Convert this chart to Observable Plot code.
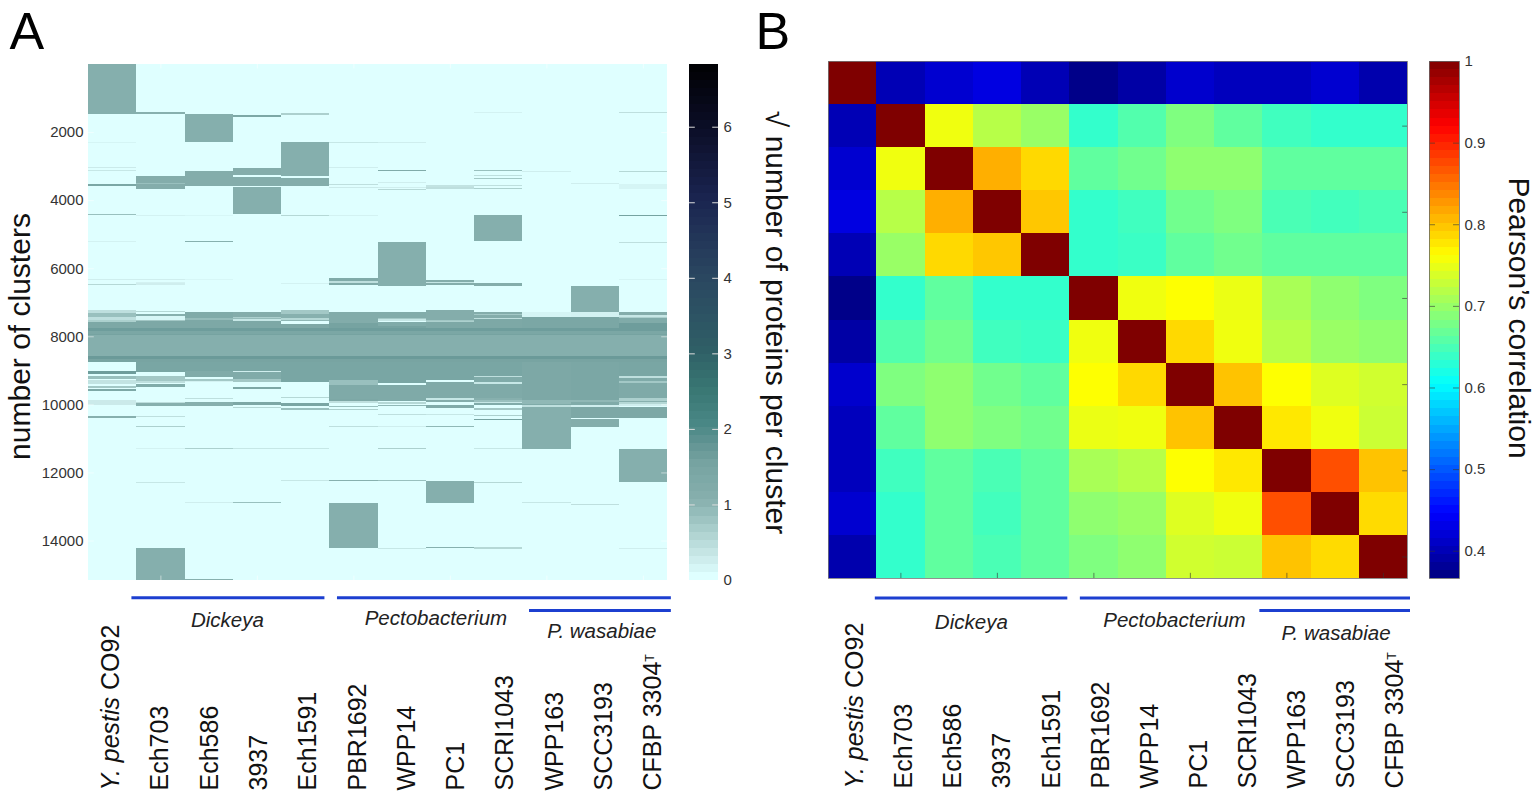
<!DOCTYPE html>
<html>
<head>
<meta charset="utf-8">
<script src="https://cdn.jsdelivr.net/npm/d3@7"></script>
<script src="https://cdn.jsdelivr.net/npm/@observablehq/plot@0.6"></script>
<style>
html,body{margin:0;padding:0;background:#fff}
#wrap{position:relative;width:1537px;height:800px;overflow:hidden}
</style>
</head>
<body>
<div id="wrap"></div>
<script>
// ---------- shared categories ----------
const genomes = ["Y. pestis CO92","Ech703","Ech586","3937","Ech1591","PBR1692","WPP14","PC1","SCRI1043","WPP163","SCC3193","CFBP 3304T"];
const clusterCount = 15160;
const clusterTicks = [2000,4000,6000,8000,10000,12000,14000];
const sizeTicks = [0,1,2,3,4,5,6];
const sizeMax = 6.83;
const corrTicks = [0.4,0.5,0.6,0.7,0.8,0.9,1];
const corrMin = 0.3666;

// ---------- panel A: [first cluster, last cluster, sqrt(proteins per cluster)] ----------
const coreBands = [[7765,7830,1.6],[7830,7940,1.35],[7940,7965,1.5],[7965,8590,1.05],[8590,8680,1.65],[8680,8760,1.45]];
const yPestisBands = [[0,1478,1.05],[2290,2310,.12],[3035,3055,.25],[3123,3145,.3],[3525,3580,1.35],[4415,4440,.8],[5199,5215,.15],[6324,6345,.2],[6450,6480,.5],[7227,7325,.4],[7325,7423,.8],[7423,7520,.4],[7520,7570,.6],[7570,7765,1.3],[9018,9107,1.6],[9165,9244,.8],[9283,9400,.35],[9459,9508,.7],[9537,9616,1.3],[9870,10017,.25],[10340,10400,1],[10630,10650,.1],[12220,12235,.2],[12886,12910,.4]];
const ech703Bands = [[1410,1470,1],[3290,3510,1.1],[3510,3540,.8],[3540,3660,1.1],[4430,4460,.15],[6330,6350,.2],[6395,6420,.15],[6440,6480,.2],[7256,7295,.5],[7344,7403,1],[7403,7511,.1],[7511,7550,.7],[7550,7765,1.3],[8760,9038,1.4],[9175,9312,.7],[9312,9380,.4],[9410,9488,1.2],[9919,9968,.4],[9968,10047,1],[10330,10360,.4],[10630,10660,.6],[11290,11310,.15],[12270,12300,.3],[14228,15160,1.05]];
const ech586Bands = [[1478,2290,1.05],[3135,3580,1.1],[4440,4460,.1],[5210,5240,1],[6320,6340,.1],[6420,6440,.15],[7276,7472,1.2],[7472,7520,.85],[7520,7765,1.3],[8760,9009,1.4],[9009,9204,1.2],[9263,9312,.7],[9312,9350,.15],[9821,9850,.4],[9919,10037,1],[11280,11300,.6],[12880,12900,.2],[15138,15160,1]];
const b3937Bands = [[1510,1550,1.3],[3045,3260,1.1],[3310,3570,1.1],[3613,4415,1.05],[5215,5225,.15],[6420,6440,.1],[7276,7423,1.1],[7423,7470,.6],[7470,7500,.85],[7500,7550,.3],[7550,7765,1.3],[8760,9009,1.4],[9009,9048,.2],[9048,9253,1.2],[9253,9351,.7],[9479,9537,1.3],[9939,10027,1.3],[10090,10120,.5],[11290,11310,.3],[12880,12905,.8]];
const ech1591Bands = [[1430,1490,.6],[2290,3280,1.05],[3340,3590,1.1],[4445,4475,.5],[5200,5210,.12],[6440,6460,.15],[7227,7344,.7],[7344,7472,1],[7472,7520,.5],[7520,7560,.9],[7628,7765,1.3],[8760,9351,1.4],[9792,9821,.5],[9958,10037,1.4],[10115,10174,.8],[11290,11310,.3],[12220,12240,.3]];
const pbr1692Bands = [[2285,2315,.3],[3035,3055,.2],[3340,3360,.12],[3530,3560,.4],[3620,3640,.25],[4440,4460,.15],[6295,6380,1.2],[6380,6420,.4],[6420,6480,1.2],[7276,7618,1.15],[7618,7765,1.5],[8760,9283,1.4],[9283,9430,.8],[9430,9831,1.25],[9831,9910,1.3],[9910,9968,.4],[10037,10066,.8],[10145,10180,.6],[10360,10380,.2],[10630,10660,.4],[12220,12250,1],[12886,14228,1.05]];
const wpp14Bands = [[2290,2310,.2],[3120,3150,1.2],[3480,3500,.2],[3620,3640,.2],[3680,3700,.5],[4440,4450,.08],[5216,6510,1.05],[7276,7472,1.15],[7472,7500,.7],[7500,7540,.3],[7590,7700,1.2],[7700,7765,1.5],[8760,9380,1.4],[9440,9900,1.25],[9945,9975,.5],[10010,10040,.9],[10290,10320,.4],[10640,10660,.2],[11280,11300,.6],[12220,12250,.8],[14220,14240,.3]];
const pc1Bands = [[2280,2300,.25],[3550,3600,.35],[3620,3670,.4],[6340,6400,1.1],[6400,6440,.3],[6440,6490,1.1],[7227,7520,1.1],[7520,7550,.7],[7550,7590,.6],[7590,7765,1.3],[8760,9283,1.4],[9340,9821,1.25],[9821,9880,.3],[9880,9919,1.1],[10017,10115,1.2],[10290,10310,.3],[10640,10670,.9],[12240,12886,1.05],[14179,14228,1]];
const scri1043Bands = [[1410,1430,.15],[3120,3150,.8],[3270,3300,.4],[3335,3375,.7],[3550,3590,.4],[3630,3660,.6],[4435,5199,1.05],[6420,6510,1.1],[7276,7354,1.1],[7354,7374,.7],[7374,7472,1.1],[7472,7500,.4],[7500,7765,1.3],[8760,9155,1.4],[9155,9195,.4],[9195,9332,1.2],[9332,9410,.3],[9410,9821,1.25],[9821,9870,1],[9870,9919,.8],[9919,9968,.3],[9968,10017,1.2],[10115,10170,.7],[10310,10340,.6],[10440,10470,1.5],[11290,11310,.3],[12280,12300,.5],[14179,14250,.5]];
const wpp163Bands = [[3150,3170,.2],[7295,7443,.12],[7443,7765,1.35],[8760,9870,1.3],[9870,9987,.9],[9987,10017,1.2],[10017,10066,.4],[10066,11300,1.05],[12880,12900,.3]];
const scc3193Bands = [[3130,3150,.2],[3500,3520,.2],[5190,5210,.25],[6510,7276,1.05],[7276,7443,.15],[7443,7765,1.35],[8760,9870,1.35],[9870,9940,.9],[9940,10017,1.2],[10017,10066,.2],[10066,10390,1.3],[10420,10674,1.1],[11330,11350,.6],[12920,12945,.4]];
const cfbpBands = [[1400,1425,.4],[3150,3175,.5],[3530,3660,.12],[4435,4470,1.5],[5220,5250,.4],[6320,6340,.12],[7276,7374,1.1],[7374,7423,.3],[7423,7470,.6],[7470,7620,1.2],[7620,7765,1.6],[8760,9165,1.4],[9165,9224,.4],[9224,9312,1.2],[9312,9360,.7],[9360,9821,1.25],[9821,9900,.6],[9900,9940,1],[9940,9998,.5],[9998,10047,.2],[10067,10410,1.3],[11310,12270,1.05],[14220,14240,.2]];
const bandsByGenome = [yPestisBands,ech703Bands,ech586Bands,b3937Bands,ech1591Bands,pbr1692Bands,wpp14Bands,pc1Bands,scri1043Bands,wpp163Bands,scc3193Bands,cfbpBands];

// ---------- panel B: upper triangle of Pearson correlation ----------
const corrUpper = [
 [1,.40,.417,.427,.40,.373,.39,.415,.405,.405,.417,.395],
 [1,.753,.718,.699,.636,.655,.683,.664,.644,.636,.636],
 [1,.812,.786,.664,.674,.693,.693,.664,.664,.664],
 [1,.797,.636,.644,.674,.683,.65,.645,.65],
 [1,.636,.64,.664,.674,.664,.664,.664],
 [1,.753,.762,.75,.709,.693,.683],
 [1,.786,.753,.718,.70,.693],
 [1,.80,.762,.742,.733],
 [1,.777,.753,.73],
 [1,.872,.80],
 [1,.785],
 [1]
];

// ---------- annotations, in column units ----------
const bracketsA = [[.90,4.90,15667],[5.16,12.08,15667],[9.14,12.08,16040]];
const bracketsB = [[.97,4.96,12.45],[5.22,12.08,12.45],[8.94,12.08,12.74]];
const groupLabelXA = [2.88,7.20,10.64];
const groupLabelXB = [2.96,7.17,10.52];

// ---------- colour ramps ----------
const sizeDomain = [0,.2,.5,1,1.5,1.7,2,2.5,3,4,5,6,6.83];
const sizeRange = ["#dfffff","#cfeeee","#b5d8d6","#87b0ae","#76a3a1","#679796","#4a8886","#387672","#2f5e66","#2a4660","#1a2450","#0a0c24","#000000"];
const jetT = [0,.125,.375,.625,.875,1];
const jetRange = ["#00007f","#0000ff","#00ffff","#ffff00","#ff0000","#7f0000"];
const jetDomain = jetT.map(t => corrMin + (1-corrMin)*t);

const FONT = '"Liberation Sans", Arial, sans-serif';
const BLUE = "#1c3fd0";
const oddCols = [1.5,3.5,5.5,7.5,9.5,11.5];
const wrap = document.getElementById("wrap");
function place(svg,left){
  svg.style.position="absolute"; svg.style.left=left+"px"; svg.style.top="0px";
  svg.style.background="transparent"; svg.style.maxWidth="none"; svg.style.fontFamily=FONT;
  wrap.appendChild(svg);
}
function decorate(svg){
  d3.select(svg).selectAll("text").each(function(){
    const s=d3.select(this), t=s.text();
    if(t==="Y. pestis CO92") s.html('<tspan font-style="italic">Y. pestis</tspan> CO92');
    if(t==="CFBP 3304T") s.html('CFBP 3304<tspan dy="-0.6em" font-size="50%">T</tspan>');
  });
}
function genomeLabels(start,step){
  return Plot.text(genomes.map((g,i)=>({g,i})),{
    x:d=>start+d.i*step, text:d=>d.g, frameAnchor:"bottom", dy:210, rotate:-90,
    textAnchor:"start", lineAnchor:"middle", fontSize:25, fill:"#111"
  });
}
function groupLabel(name,x,dy){
  return Plot.text([name],{x:()=>x,text:d=>d,frameAnchor:"bottom",dy,fontSize:20.5,fontStyle:"italic",fill:"#222"});
}

// ---------- Panel A heat map ----------
const rowsA = [];
bandsByGenome.forEach((bands,c)=>{
  rowsA.push({c,a:0,b:clusterCount,v:0});
  coreBands.forEach(([a,b,v])=>rowsA.push({c,a,b,v}));
  bands.forEach(([a,b,v])=>rowsA.push({c,a,b,v}));
});
const sizeColor = {type:"linear",domain:sizeDomain,range:sizeRange,clamp:true};
const plotA = Plot.plot({
  width:680,height:800,marginLeft:88,marginRight:13,marginTop:64,marginBottom:220,
  x:{domain:[0,12],axis:null},
  y:{domain:[0,clusterCount],reverse:true},
  color:sizeColor,
  marks:[
    Plot.rect(rowsA,{x1:d=>d.c,x2:d=>d.c+1,y1:"a",y2:"b",fill:"v",shapeRendering:"crispEdges"}),
    Plot.ruleX(oddCols,{y1:0,y2:130,stroke:"#fff",strokeOpacity:.5}),
    Plot.ruleX(oddCols,{y1:clusterCount-130,y2:clusterCount,stroke:"#fff",strokeOpacity:.5}),
    Plot.ruleY(clusterTicks,{x1:0,x2:.12,stroke:"#fff",strokeOpacity:.5}),
    Plot.ruleY(clusterTicks,{x1:11.88,x2:12,stroke:"#fff",strokeOpacity:.5}),
    Plot.axisY({ticks:clusterTicks,tickSize:0,tickPadding:5,fontSize:15,color:"#333",label:null,tickFormat:d=>String(d)}),
    Plot.text(["A"],{frameAnchor:"top-left",dx:-79,dy:-16,text:d=>d,fontSize:52,textAnchor:"start",lineAnchor:"bottom",fill:"#000"}),
    Plot.text(["number of clusters"],{frameAnchor:"left",dx:-59,dy:14,rotate:-90,text:d=>d,fontSize:30,textAnchor:"middle",lineAnchor:"bottom",fill:"#111"}),
    genomeLabels(.468,1.0215),
    Plot.ruleY(bracketsA,{y:d=>d[2],x1:d=>d[0],x2:d=>d[1],stroke:BLUE,strokeWidth:3}),
    groupLabel("Dickeya",groupLabelXA[0],46),
    groupLabel("Pectobacterium",groupLabelXA[1],44),
    groupLabel("P. wasabiae",groupLabelXA[2],57)
  ]
});
decorate(plotA); place(plotA,0);

// ---------- Panel A colour bar ----------
const sizeSteps = d3.range(64);
const barA = Plot.plot({
  width:120,height:800,marginLeft:9,marginRight:82,marginTop:64,marginBottom:220,
  x:{domain:[0,1],axis:null},
  y:{domain:[0,sizeMax]},
  color:sizeColor,
  marks:[
    Plot.rect(sizeSteps,{x1:0,x2:1,y1:k=>k*sizeMax/64,y2:k=>(k+1)*sizeMax/64,fill:k=>k*sizeMax/64,shapeRendering:"crispEdges"}),
    Plot.ruleY(sizeTicks.slice(1),{x1:0,x2:.2,stroke:"#ddd"}),
    Plot.ruleY(sizeTicks.slice(1),{x1:.8,x2:1,stroke:"#ddd"}),
    Plot.axisY({ticks:sizeTicks,anchor:"right",tickSize:0,tickPadding:5,fontSize:15,color:"#333",label:null,tickFormat:d=>String(d)}),
    Plot.text(["B"],{frameAnchor:"top-left",dx:66,dy:-16,text:d=>d,fontSize:52,textAnchor:"start",lineAnchor:"bottom",fill:"#000"}),
    Plot.text(["\u221A number of proteins per cluster"],{frameAnchor:"left",dx:76,rotate:90,text:d=>d,fontSize:30,textAnchor:"middle",lineAnchor:"bottom",fill:"#111"})
  ]
});
place(barA,680);

// ---------- Panel B heat map ----------
const cellsB = [];
corrUpper.forEach((row,i)=>row.forEach((v,k)=>{
  const j=i+k;
  cellsB.push({i,j,v});
  if(i!==j) cellsB.push({i:j,j:i,v});
}));
const corrColor = {type:"linear",domain:jetDomain,range:jetRange,clamp:true};
const plotB = Plot.plot({
  width:610,height:800,marginLeft:28,marginRight:3,marginTop:61,marginBottom:222,
  x:{domain:[0,12],axis:null},
  y:{domain:[0,12],reverse:true,axis:null},
  color:corrColor,
  marks:[
    Plot.rect(cellsB,{x1:"j",x2:d=>d.j+1,y1:"i",y2:d=>d.i+1,fill:"v",shapeRendering:"crispEdges"}),
    Plot.ruleX(oddCols,{y1:11.88,y2:12,stroke:"#333",strokeOpacity:.6}),
    Plot.ruleY(oddCols,{x1:11.9,x2:12,stroke:"#333",strokeOpacity:.6}),
    Plot.frame({stroke:"#777",strokeWidth:.8}),
    genomeLabels(.55,1.018),
    Plot.ruleY(bracketsB,{y:d=>d[2],x1:d=>d[0],x2:d=>d[1],stroke:BLUE,strokeWidth:3}),
    groupLabel("Dickeya",groupLabelXB[0],50),
    groupLabel("Pectobacterium",groupLabelXB[1],48),
    groupLabel("P. wasabiae",groupLabelXB[2],61)
  ]
});
decorate(plotB); place(plotB,800);

// ---------- Panel B colour bar ----------
const corrStep = (1-corrMin)/64;
const barB = Plot.plot({
  width:127,height:800,marginLeft:19,marginRight:78,marginTop:61,marginBottom:222,
  x:{domain:[0,1],axis:null},
  y:{domain:[corrMin,1]},
  color:corrColor,
  marks:[
    Plot.rect(sizeSteps,{x1:0,x2:1,y1:k=>corrMin+k*corrStep,y2:k=>corrMin+(k+1)*corrStep,fill:k=>corrMin+(k+.5)*corrStep,shapeRendering:"crispEdges"}),
    Plot.ruleY(corrTicks.slice(0,-1),{x1:0,x2:.2,stroke:"#333",strokeOpacity:.6}),
    Plot.ruleY(corrTicks.slice(0,-1),{x1:.8,x2:1,stroke:"#333",strokeOpacity:.6}),
    Plot.frame({stroke:"#666",strokeWidth:.8}),
    Plot.axisY({ticks:corrTicks,anchor:"right",tickSize:0,tickPadding:5,fontSize:15,color:"#333",label:null,tickFormat:d=>String(d)}),
    Plot.text(["Pearson\u2019s correlation"],{frameAnchor:"left",dx:79,dy:-2,rotate:90,text:d=>d,fontSize:30,textAnchor:"middle",lineAnchor:"bottom",fill:"#111"})
  ]
});
place(barB,1410);
</script>
</body>
</html>
